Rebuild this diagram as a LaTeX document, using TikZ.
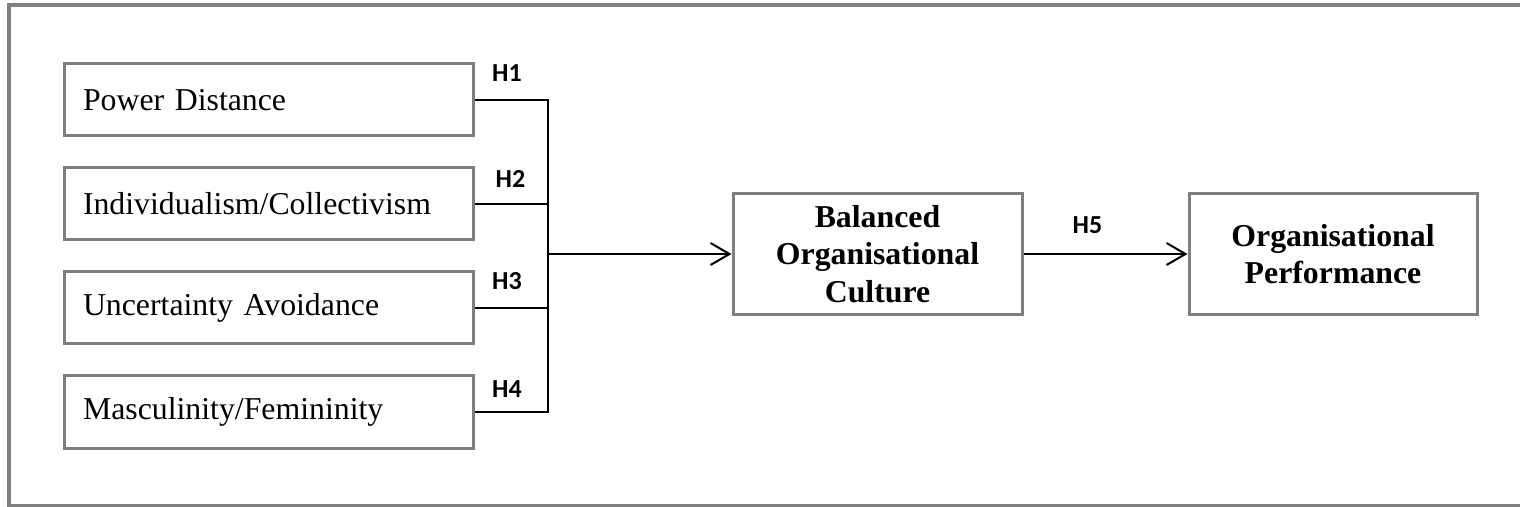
\documentclass[tikz,border=0pt]{standalone}
\usepackage{fontspec}
\setmainfont{Liberation Serif}
\newfontfamily\hfont{Carlito}
\usetikzlibrary{arrows.meta}
\definecolor{boxgray}{HTML}{7F7F7F}
\definecolor{framegray}{HTML}{808080}
\begin{document}
\begin{tikzpicture}[x=0.5pt,y=-0.5pt,
  box/.style={draw=boxgray, line width=1.5pt, font=\fontsize{15.9}{18.8}\selectfont},
  leftbox/.style={box, minimum width=204.5pt, minimum height=36pt, inner xsep=9.5pt, text width=185.5pt, align=left},
  rightbox/.style={box, minimum height=60.5pt, align=center, font=\fontsize{15.9}{18.8}\selectfont\bfseries},
  conn/.style={draw=black, line width=1pt},
  arr/.style={-{Straight Barb[length=9.5pt,width=11pt]}},
  hlab/.style={font=\hfont\bfseries\fontsize{13}{15}\selectfont, inner sep=0pt}
]
\useasboundingbox (0,0) rectangle (1520,507);
\draw[framegray, line width=1.75pt] (1530,5) -- (9,5) -- (9,505.5) -- (1530,505.5);

\node[leftbox] (pd) at (268.5,100) {Power Distance};
\node[leftbox] (ic) at (268.5,204) {Individualism/Collectivism};
\node[leftbox] (ua) at (268.5,308) {Uncertainty Avoidance};
\node[leftbox] (mf) at (268.5,412) {Masculinity/Femininity};

\node[rightbox, minimum width=144.5pt] (bal) at (877.5,254) {Balanced\\Organisational\\Culture};
\node[rightbox, minimum width=144pt] (op) at (1333,254) {Organisational\\Performance};

\coordinate (j) at (548,254);

\draw[conn] (pd.east) -- (pd.east -| j);
\draw[conn] (ic.east) -- (ic.east -| j);
\draw[conn] (ua.east) -- (ua.east -| j);
\draw[conn] (mf.east) -- (mf.east -| j);
\draw[conn, line cap=rect] (pd.east -| j) -- (mf.east -| j);
\draw[conn, arr] (j) -- (bal.west);
\draw[conn, arr] (bal.east) -- (op.west);

\node[hlab] (h1) at (507,73.5) {H1};
\node[hlab] (h2) at (510.5,178.5) {H2};
\node[hlab] (h3) at (507,281.5) {H3};
\node[hlab] (h4) at (507,389.5) {H4};
\node[hlab] (h5) at (1087.5,225.5) {H5};
\end{tikzpicture}
\end{document}
